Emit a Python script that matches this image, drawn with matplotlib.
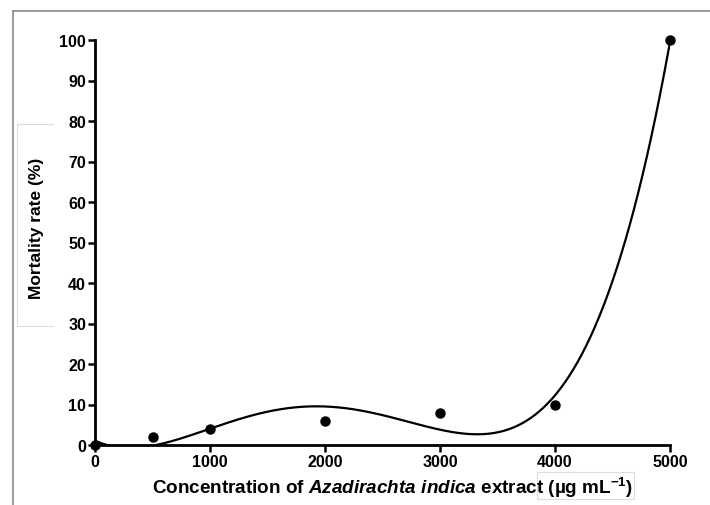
import numpy as np
import matplotlib.pyplot as plt
from matplotlib.lines import Line2D
from matplotlib.patches import Rectangle

plt.rcParams["font.family"] = ["Liberation Sans", "DejaVu Sans"]
plt.rcParams["mathtext.fontset"] = "custom"
plt.rcParams["mathtext.rm"] = "Liberation Sans:bold"
plt.rcParams["mathtext.it"] = "Liberation Sans:bold:italic"
plt.rcParams["mathtext.bf"] = "Liberation Sans:bold"

# data
conc = [0, 500, 1000, 2000, 3000, 4000, 5000]
mortality = [0, 2, 4, 6, 8, 10, 100]
x_ticks = [0, 1000, 2000, 3000, 4000, 5000]
y_ticks = list(range(0, 101, 10))

# polynomial fit for the smooth curve
coef = np.polyfit(conc, mortality, 4)
xs = np.linspace(0, 5000, 400)
ys = np.polyval(coef, xs)

fig = plt.figure(figsize=(7.1, 5.06), dpi=100)
ax = fig.add_axes([95 / 710, 1 - 446 / 506, 575 / 710, 405 / 506])

ax.plot(xs, ys, color="black", lw=1.6)
ax.plot(conc, mortality, "o", color="black", ms=6.5, clip_on=False, zorder=5)

ax.set_xlim(0, 5000)
ax.set_ylim(0, 100)
ax.set_xticks(x_ticks)
ax.set_yticks(y_ticks)
for s in ["top", "right"]:
    ax.spines[s].set_visible(False)
for s in ["left", "bottom"]:
    ax.spines[s].set_linewidth(2)
ax.tick_params(direction="out", length=5, width=1.8, labelsize=11.5, pad=1.5)
for lab in ax.get_xticklabels() + ax.get_yticklabels():
    lab.set_fontweight("bold")

fig.text(392 / 710, 1 - 488 / 506,
         r"Concentration of $Azadirachta\ indica$ extract (µg mL$^{-1}$)",
         ha="center", va="center", fontsize=13.6, fontweight="bold")
fig.text(37 / 710, 1 - 228 / 506, "Mortality rate (%)", rotation=90,
         ha="center", va="center", fontsize=12.5, fontweight="bold")

# outer frame (top + left) and faint boxes
grey = "#8a8a8a"
fig.add_artist(Line2D([13 / 710, 13 / 710], [0, 1 - 12 / 506], color=grey, lw=1.2))
fig.add_artist(Line2D([13 / 710, 1], [1 - 12 / 506, 1 - 12 / 506], color=grey, lw=1.2))
light = "#dcdcdc"
fig.add_artist(Line2D([53 / 710, 17 / 710, 17 / 710, 53 / 710],
                      [1 - 125 / 506, 1 - 125 / 506, 1 - 327 / 506, 1 - 327 / 506],
                      color=light, lw=0.8))
fig.add_artist(Rectangle((537 / 710, 1 - 500 / 506), 97 / 710, 27 / 506,
                         fill=False, edgecolor=light, lw=0.8))

fig.savefig("out.png", dpi=100)
